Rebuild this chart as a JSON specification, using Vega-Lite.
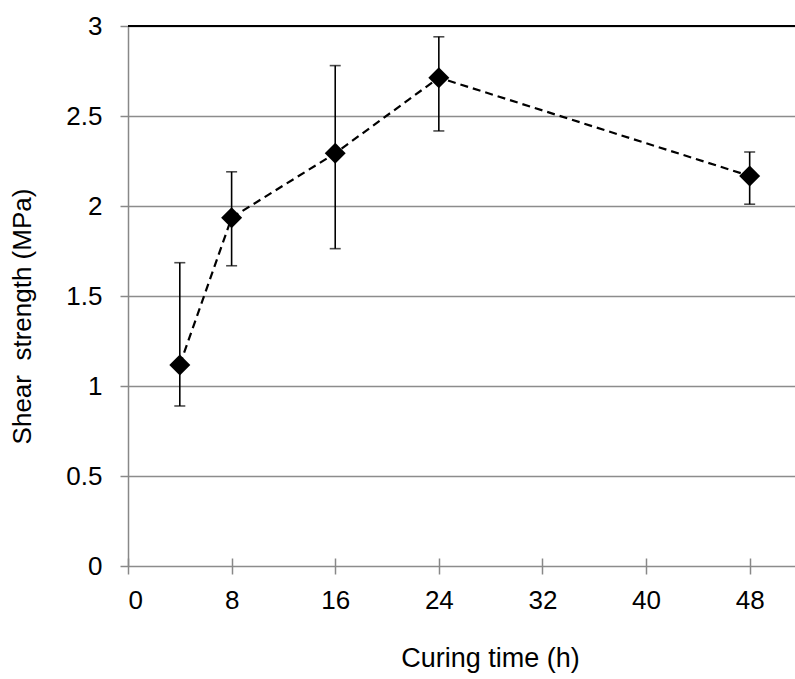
{
  "$schema": "https://vega.github.io/schema/vega-lite/v6.json",
  "width": 667,
  "height": 540,
  "autosize": {"type": "none"},
  "padding": {"left": 128, "top": 26, "right": 0, "bottom": 113},
  "background": "white",
  "config": {
    "view": {"stroke": null},
    "font": "Liberation Sans",
    "axis": {"labelColor": "black", "titleColor": "black", "titleFontWeight": "normal", "labelFont": "Liberation Sans", "titleFont": "Liberation Sans"}
  },
  "data": {
    "values": [
      {"h": 4, "s": 1.117, "lo": 0.889, "hi": 1.685},
      {"h": 8, "s": 1.935, "lo": 1.668, "hi": 2.19},
      {"h": 16, "s": 2.293, "lo": 1.763, "hi": 2.78},
      {"h": 24, "s": 2.713, "lo": 2.417, "hi": 2.94},
      {"h": 48, "s": 2.167, "lo": 2.01, "hi": 2.3}
    ]
  },
  "encoding": {
    "x": {
      "field": "h",
      "type": "quantitative",
      "scale": {"domain": [0, 51.5], "nice": false},
      "axis": {
        "values": [0, 8, 16, 24, 32, 40, 48],
        "domain": false,
        "offset": -8,
        "tickSize": 16,
        "tickColor": "#888888",
        "tickWidth": 1.5,
        "grid": false,
        "labelFontSize": 26,
        "labelPadding": 13,
        "title": "Curing time (h)",
        "titleFontSize": 27,
        "titleX": 362,
        "titleY": 108,
        "titleBaseline": "alphabetic"
      }
    }
  },
  "layer": [
    {
      "mark": {"type": "rule", "color": "black", "strokeWidth": 1.6},
      "encoding": {
        "y": {
          "field": "lo",
          "type": "quantitative",
          "scale": {"domain": [0, 3], "nice": false},
          "axis": {
            "values": [0, 0.5, 1, 1.5, 2, 2.5, 3],
            "format": "~g",
            "domain": true,
            "domainColor": "#888888",
            "domainWidth": 1.5,
            "tickSize": 8,
            "tickColor": "#888888",
            "tickWidth": 1.5,
            "grid": true,
            "gridColor": "#8c8c8c",
            "gridWidth": 1.5,
            "labelFontSize": 26,
            "labelPadding": 18,
            "title": "Shear\u00a0 strength (MPa)",
            "titleFontSize": 26,
            "titleX": -106,
            "titleY": 290,
            "titleAngle": -90,
            "titleAlign": "center",
            "titleBaseline": "middle"
          }
        },
        "y2": {"field": "hi"}
      }
    },
    {
      "mark": {"type": "rule", "color": "black", "strokeWidth": 2},
      "encoding": {"x": {"datum": 0}, "x2": {"datum": 51.5}, "y": {"datum": 3, "type": "quantitative"}}
    },
    {
      "mark": {"type": "tick", "color": "black", "orient": "horizontal", "size": 11, "thickness": 1.6},
      "encoding": {"y": {"field": "lo", "type": "quantitative"}}
    },
    {
      "mark": {"type": "tick", "color": "black", "orient": "horizontal", "size": 11, "thickness": 1.6},
      "encoding": {"y": {"field": "hi", "type": "quantitative"}}
    },
    {
      "mark": {"type": "line", "color": "black", "strokeDash": [8, 5], "strokeWidth": 2.2},
      "encoding": {"y": {"field": "s", "type": "quantitative"}}
    },
    {
      "mark": {"type": "point", "shape": "diamond", "filled": true, "color": "black", "size": 440, "opacity": 1},
      "encoding": {"y": {"field": "s", "type": "quantitative"}}
    }
  ]
}
